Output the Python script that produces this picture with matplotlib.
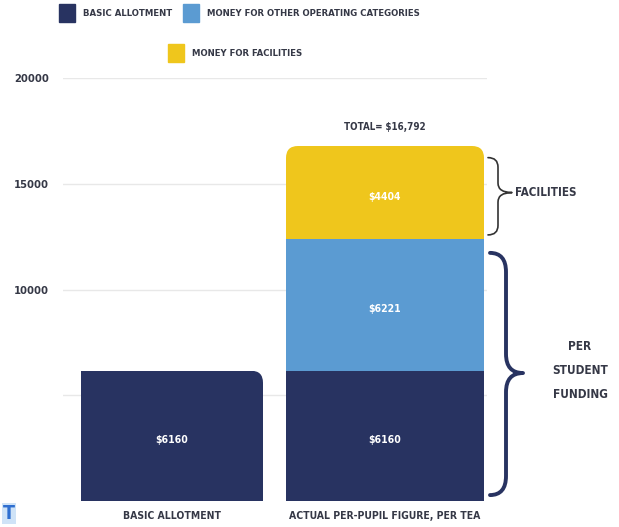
import matplotlib.pyplot as plt
from matplotlib.patches import Rectangle, FancyBboxPatch, PathPatch
from matplotlib.path import Path
from matplotlib.transforms import IdentityTransform

plt.rcParams['font.family'] = ['DejaVu Sans']
plt.rcParams['font.stretch'] = 'condensed'
plt.rcParams['font.weight'] = 'bold'

# funding per pupil
categories = ["BASIC ALLOTMENT", "ACTUAL PER-PUPIL FIGURE, PER TEA"]
basic_allotment = [6160, 6160]
other_operating = [0, 6221]
facilities = [0, 4404]
total_label = "TOTAL= $16,792"
yticks = [5000, 10000, 15000, 20000]
ytick_labels = ["", "10000", "15000", "20000"]

NAVY = "#283361"
BLUE = "#5b9bd2"
YELLOW = "#efc61c"
TEXT = "#353846"

W, H = 619, 527
fig = plt.figure(figsize=(W / 100, H / 100), dpi=100)
ax = fig.add_axes([63 / W, 26 / H, 424 / W, 423 / H])

xmin = -109 / 213
ax.set_xlim(xmin, xmin + 424 / 213)
ax.set_ylim(0, 20000)

def px(p):
    # horizontal pixel -> x data
    return xmin + (p - 63) / 213

widths = [182 / 213, 198 / 213]
pos = [0, 1]
b1 = ax.bar(pos, basic_allotment, width=widths, color=NAVY, zorder=2)
mid = [a + b for a, b in zip(basic_allotment, other_operating)]
b2 = ax.bar(pos[1:], other_operating[1:], bottom=basic_allotment[1:], width=widths[1], color=BLUE, zorder=2)
b3 = ax.bar(pos[1:], facilities[1:], bottom=mid[1:], width=widths[1], color=YELLOW, zorder=2)

# rounded top corners
def round_top(bar, left=True, r=12):
    (x0, y0), (x1, y1) = ax.transData.transform([(bar.get_x(), bar.get_y()),
                                                 (bar.get_x() + bar.get_width(), bar.get_y() + bar.get_height())])
    if not left:
        x0 -= 2 * r
    clip = FancyBboxPatch((x0, y0 - 2 * r), x1 - x0, y1 - y0 + 2 * r,
                          boxstyle=f"round,pad=0,rounding_size={r}", transform=IdentityTransform())
    bar.set_clip_path(clip)

round_top(b1[0], left=False)
round_top(b3[0])

ax.set_yticks(yticks, ytick_labels)
ax.grid(axis='y', color='#e8e8e8', linewidth=1.0, zorder=0)
ax.set_axisbelow(True)
for s in ax.spines.values():
    s.set_visible(False)
ax.tick_params(axis='y', length=0, pad=10, labelsize=8, labelcolor=TEXT)
ax.set_xticks(pos, categories)
ax.tick_params(axis='x', length=0, pad=7, labelsize=7.5, labelcolor=TEXT)

# value labels inside segments
lbl = dict(textcoords='offset points', ha='center', va='center', color='white', fontsize=7.5)
for i in pos:
    ax.annotate(f"${basic_allotment[i]}", (i, basic_allotment[i] / 2), xytext=(0, -3), **lbl)
ax.annotate(f"${other_operating[1]}", (1, basic_allotment[1] + other_operating[1] / 2), xytext=(0, -3), **lbl)
ax.annotate(f"${facilities[1]}", (1, mid[1] + facilities[1] / 2), xytext=(0, -3), **lbl)
ax.annotate(total_label, (1, mid[1] + facilities[1]), xytext=(0, 14),
            textcoords='offset points', ha='center', va='center', color=TEXT, fontsize=7)

# curly braces on the right
def brace(x0, xs, xt, ytop, ybot, ymid, r, color, lw):
    verts = [(x0, ytop), (xs, ytop), (xs, ytop - r),
             (xs, ymid + r), (xs, ymid), (xt, ymid),
             (xs, ymid), (xs, ymid - r),
             (xs, ybot + r), (xs, ybot), (x0, ybot)]
    codes = [Path.MOVETO, Path.CURVE3, Path.CURVE3,
             Path.LINETO, Path.CURVE3, Path.CURVE3,
             Path.CURVE3, Path.CURVE3,
             Path.LINETO, Path.CURVE3, Path.CURVE3]
    ax.add_patch(PathPatch(Path(verts, codes), fill=False, edgecolor=color, lw=lw,
                           clip_on=False, capstyle='round', joinstyle='round'))

total = mid[1] + facilities[1]
brace(px(488), px(498), px(512), total - 550, mid[1] + 200, mid[1] + facilities[1] / 2, 450, "#333333", 1.2)
brace(px(490), px(506), px(523), mid[1] - 650, 280, 6050, 900, NAVY, 2.8)

ax.text(px(515), mid[1] + facilities[1] / 2, "FACILITIES", ha='left', va='center',
        color=TEXT, fontsize=8.3, clip_on=False)
ax.text(px(580), 6150, "PER\nSTUDENT\nFUNDING", ha='center', va='center',
        color=TEXT, fontsize=8.5, linespacing=2.1, clip_on=False)

# legend
legend_items = [("BASIC ALLOTMENT", NAVY, 59, 13), ("MONEY FOR OTHER OPERATING CATEGORIES", BLUE, 183, 13),
                ("MONEY FOR FACILITIES", YELLOW, 168, 53)]
for label, color, x, y in legend_items:
    fig.patches.append(Rectangle((x / W, 1 - (y + 9) / H), 16 / W, 18 / H, color=color,
                                 transform=fig.transFigure))
    fig.text((x + 24) / W, 1 - y / H, label, ha='left', va='center', color=TEXT, fontsize=6.8)

fig.text(3 / W, 4 / H, "T", ha='left', va='bottom', color='#2f6fd0', fontsize=14,
         bbox=dict(facecolor='#cfe3f7', edgecolor='none', pad=1))

fig.savefig("out.png")
